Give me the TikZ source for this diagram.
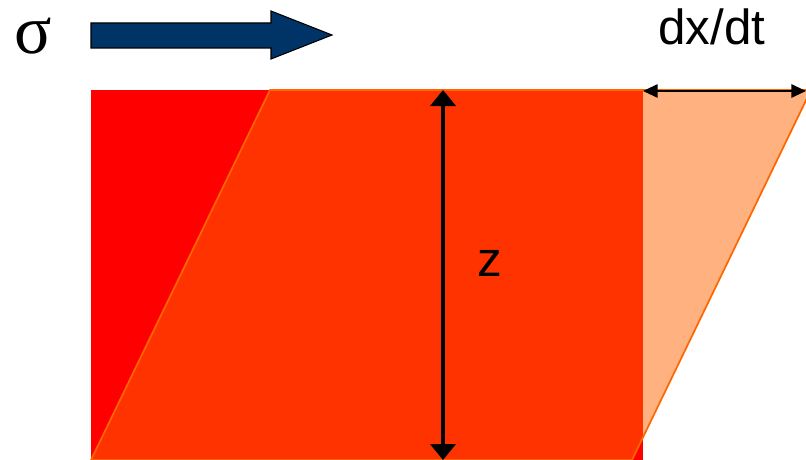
\documentclass[tikz,border=0pt]{standalone}
\usepackage{fontspec}
\setmainfont{Liberation Sans}
\newfontfamily\greekfont{Liberation Serif}
\usetikzlibrary{arrows.meta}
\definecolor{shearorange}{RGB}{255,102,0}
\definecolor{stressblue}{RGB}{0,51,102}
\tikzset{
  base block/.style={fill=red, draw=none},
  sheared block/.style={fill=shearorange, fill opacity=0.5, draw=shearorange, line width=1.3pt, line join=miter},
  stress arrow/.style={fill=stressblue, draw=black, line width=0.8pt, line join=miter},
  height line/.style={line width=2.3pt, black, {Triangle[width=19pt, length=12pt]}-{Triangle[width=19pt, length=12pt]}},
  rate line/.style={line width=1.4pt, black, {Triangle[width=10pt, length=11pt]}-{Triangle[width=10pt, length=11pt]}},
  label text/.style={inner sep=0pt, font=\fontsize{37}{44}\selectfont},
}
\begin{document}
\begin{tikzpicture}[x=0.75pt, y=-0.75pt]
  \useasboundingbox (0,0) rectangle (806,460);
  % corners of the block before and after shearing
  \coordinate (R1) at (91,460);
  \coordinate (R2) at (643,460);
  \coordinate (R3) at (643,90);
  \coordinate (R4) at (91,90);
  \coordinate (P2) at (632,460);
  \coordinate (P3) at (811,90);
  \coordinate (P4) at (270,90);
  \fill[base block] (R1) -- (R2) -- (R3) -- (R4) -- cycle;
  \draw[sheared block] (R1) -- (P2) -- (P3) -- (P4) -- cycle;
  % applied stress
  \node[label text, font=\greekfont\fontsize{52}{60}\selectfont] (sigma) at (33,36) {σ};
  \draw[stress arrow] (91,23) -- (271,23) -- (271,11) -- (332,35) -- (271,59) -- (271,48) -- (91,48) -- cycle;
  % height of the block
  \coordinate (zTop) at (443,90);
  \coordinate (zBot) at (443,460);
  \draw[height line] (zTop) -- (zBot);
  \node[label text] (zLabel) at (490,263) {z};
  % displacement rate
  \coordinate (dStart) at (643,91);
  \coordinate (dEnd) at (806,91);
  \draw[rate line] (dStart) -- (dEnd);
  \node[label text] (dxdt) at (712,27) {dx/dt};
\end{tikzpicture}
\end{document}
